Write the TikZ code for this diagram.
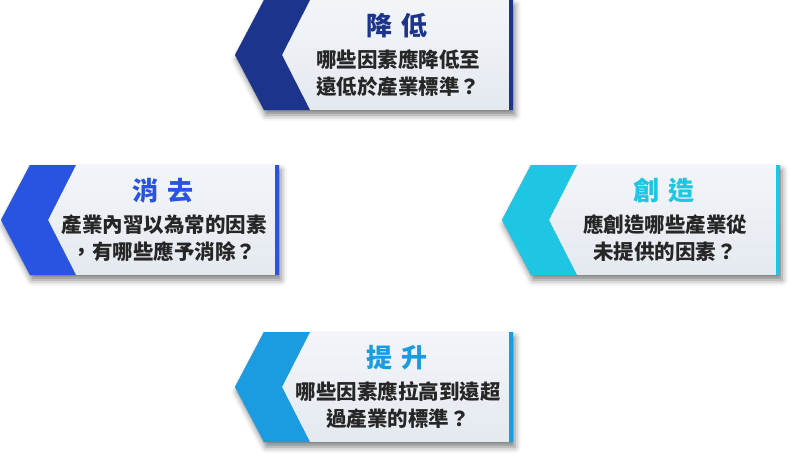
\documentclass[tikz,border=0pt]{standalone}
\usepackage{fontspec}
\setmainfont{Noto Sans CJK TC}
\usetikzlibrary{shadows.blur}
\definecolor{navy}{RGB}{28,52,140}
\definecolor{royal}{RGB}{41,84,226}
\definecolor{aqua}{RGB}{30,198,228}
\definecolor{sky}{RGB}{27,156,224}
\definecolor{panelgrey}{RGB}{228,233,240}
\definecolor{ink}{RGB}{38,38,38}
\tikzstyle{panel} = [top color=panelgrey!45!white, bottom color=panelgrey, blur shadow={shadow xshift=2pt, shadow yshift=-5pt, shadow blur radius=6pt, shadow opacity=50}]
\tikzstyle{headline} = [font=\fontsize{26}{28}\selectfont\bfseries, inner sep=0pt]
\tikzstyle{question} = [font=\fontsize{20.5}{27}\selectfont\bfseries, text=ink, align=center, inner sep=0pt]

\begin{document}
\begin{tikzpicture}[x=1pt, y=-1pt]
    \useasboundingbox (0,0) rectangle (797,460);

    % Arrow panels: tip x, middle y, colour, texts.
    \foreach \name/\tx/\my/\col/\head/\lineA/\lineB in {%
        reduce/235/55/navy/{降\hspace{0.35em}低}/{哪些因素應降低至}/{遠低於產業標準？},
        eliminate/1/220/royal/{消\hspace{0.35em}去}/{產業內習以為常的因素}/{，有哪些應予消除？},
        create/502/220/aqua/{創\hspace{0.35em}造}/{應創造哪些產業從}/{未提供的因素？},
        raise/235/387/sky/{提\hspace{0.35em}升}/{哪些因素應拉高到遠超}/{過產業的標準？}} {%
        % Light panel.
        \fill [panel] (\tx,\my) -- ++(29,-55) -- ++(249,0) -- ++(0,110) -- ++(-249,0) -- cycle;
        % Chevron band and right edge.
        \fill [\col] (\tx,\my) -- ++(29,-55) -- ++(46,0) -- (\tx+47,\my) -- (\tx+75,\my+55) -- (\tx+29,\my+55) -- cycle;
        \fill [\col] (\tx+274,\my-55) rectangle (\tx+278,\my+55);

        % Labels.
        \node (\name title) [headline, text=\col] at (\tx+162,\my-29) {\head};
        \node (\name question) [question] at (\tx+163,\my+18) {\lineA\\\lineB};
    }
\end{tikzpicture}
\end{document}
